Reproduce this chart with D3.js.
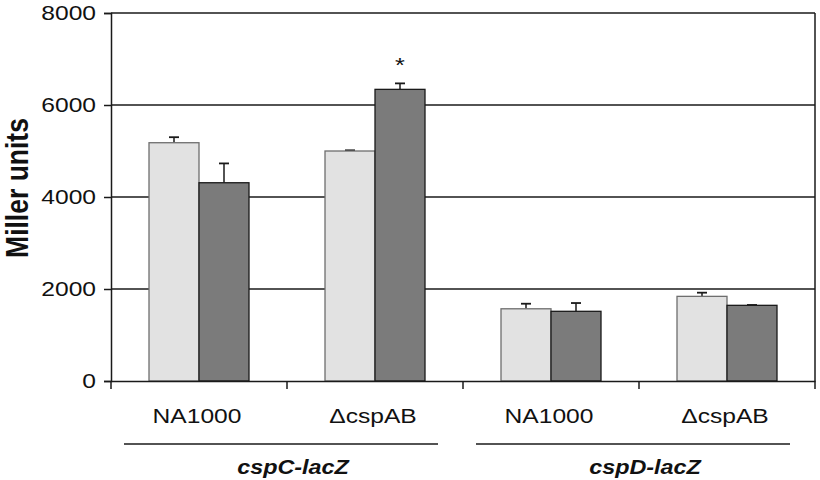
<!DOCTYPE html>
<html><head><meta charset="utf-8">
<script src="https://cdn.jsdelivr.net/npm/d3@7"></script>
<style>body{margin:0;background:#fff}</style>
</head><body>
<svg id="c" width="820" height="480"></svg>
<script>
const categories = ["NA1000", "\u0394cspAB", "NA1000", "\u0394cspAB"];
const groups = ["cspC-lacZ", "cspD-lacZ"];
const seriesLight = [5180, 5000, 1570, 1840];
const seriesDark = [4310, 6340, 1515, 1645];
const errLight = [120, 15, 110, 80];
const errDark = [420, 130, 180, 8];
const yTicks = [0, 2000, 4000, 6000, 8000];
const stars = ["", "*", "", ""];

const svg = d3.select("#c");
const L = 111, R = 815, T = 13, B = 381;
const SX = 1.2; // horizontal stretch of the original figure's text
const font = "Liberation Sans, Arial, sans-serif";
const x = d3.scaleBand().domain(d3.range(categories.length)).range([L, R]).paddingInner(0).paddingOuter(0);
const y = d3.scaleLinear().domain([0, 8000]).range([B, T]);
const bw = 50;
const ink = "#1a1a1a";

function stretchedText(px, py, str, size, opts = {}) {
  const t = svg.append("text")
    .attr("transform", `translate(${px},${py}) scale(${SX},1)` + (opts.rotate ? ` rotate(${opts.rotate})` : ""))
    .attr("text-anchor", opts.anchor || "middle")
    .attr("font-family", font).attr("font-size", size).attr("fill", "#111")
    .text(str);
  if (opts.bold) t.attr("font-weight", "bold");
  if (opts.italic) t.attr("font-style", "italic");
  if (opts.dy) t.attr("dy", opts.dy);
  return t;
}

// gridlines
svg.append("g").selectAll("line").data(yTicks.filter(d => d > 0)).join("line")
  .attr("x1", L).attr("x2", R).attr("y1", d => y(d)).attr("y2", d => y(d))
  .attr("stroke", ink).attr("stroke-width", 1.5);
// right border
svg.append("line").attr("x1", R).attr("x2", R).attr("y1", T).attr("y2", B).attr("stroke", ink).attr("stroke-width", 1.5);

// y axis
const ya = svg.append("g").attr("transform", `translate(${L},0)`)
  .call(d3.axisLeft(y).tickValues(yTicks).tickSize(7).tickFormat(""));
ya.select(".domain").attr("stroke", ink).attr("stroke-width", 1.5);
ya.selectAll(".tick line").attr("stroke", ink).attr("stroke-width", 1.5);
yTicks.forEach(v => stretchedText(L - 15, y(v), d3.format("d")(v), 20.5, { anchor: "end", dy: "0.36em" }));

// bars
const gb = svg.append("g");
categories.forEach((c, i) => {
  const cx = x(i) + x.bandwidth() / 2;
  const vals = [[seriesLight[i], errLight[i], "#e2e2e2", "#6e6e6e", cx - bw], [seriesDark[i], errDark[i], "#7b7b7b", ink, cx]];
  vals.forEach(([v, e, fill, stroke, x0]) => {
    gb.append("line").attr("x1", x0 + bw / 2).attr("x2", x0 + bw / 2).attr("y1", y(v)).attr("y2", y(v + e))
      .attr("stroke", ink).attr("stroke-width", 1.5);
    gb.append("line").attr("x1", x0 + bw / 2 - 5).attr("x2", x0 + bw / 2 + 5).attr("y1", y(v + e)).attr("y2", y(v + e))
      .attr("stroke", ink).attr("stroke-width", 1.8);
    gb.append("rect").attr("x", x0).attr("y", y(v)).attr("width", bw).attr("height", y(0) - y(v))
      .attr("fill", fill).attr("stroke", stroke).attr("stroke-width", 1.3);
  });
  if (stars[i]) {
    stretchedText(cx + bw / 2, y(seriesDark[i] + errDark[i]) - 11, stars[i], 21);
  }
});

// x axis
const xa = svg.append("g").attr("transform", `translate(0,${B})`)
  .call(d3.axisBottom(x).tickSize(0).tickFormat(""));
xa.select(".domain").attr("stroke", ink).attr("stroke-width", 1.5);
categories.forEach((c, i) => stretchedText(x(i) + x.bandwidth() / 2 - 2, 423, c, 20.5));
// x tick marks at band boundaries
const bounds = d3.range(categories.length + 1).map(i => L + i * x.bandwidth());
svg.append("g").selectAll("line").data(bounds).join("line")
  .attr("x1", d => d).attr("x2", d => d).attr("y1", B).attr("y2", B + 8)
  .attr("stroke", ink).attr("stroke-width", 1.5);

// group brackets
groups.forEach((g, k) => {
  const x0 = L + k * 2 * x.bandwidth(), x1 = x0 + 2 * x.bandwidth();
  const gc = (x0 + x1) / 2;
  svg.append("line").attr("x1", gc - 163).attr("x2", gc + 151).attr("y1", 444).attr("y2", 444)
    .attr("stroke", ink).attr("stroke-width", 1.5);
  stretchedText(gc + 6, 474, g, 19.5, { bold: true, italic: true });
});

// y label
stretchedText(28, 188, "Miller units", 26.5, { bold: true, rotate: -90 });
</script>
</body></html>
